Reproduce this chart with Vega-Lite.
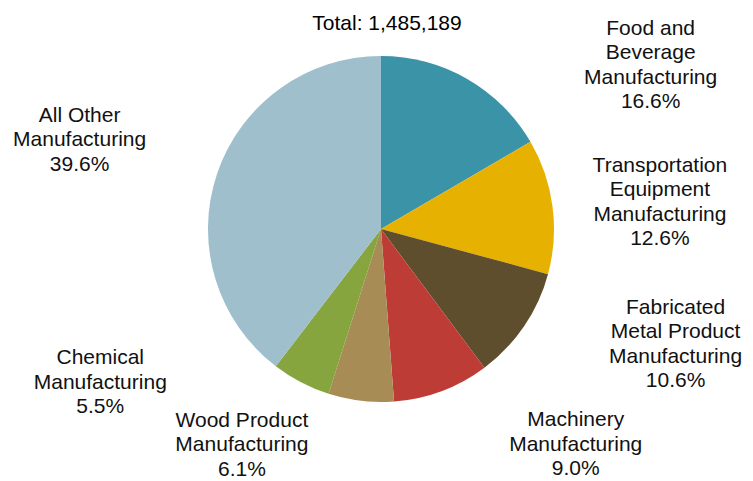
{
  "$schema": "https://vega.github.io/schema/vega-lite/v6.json",
  "width": 744,
  "height": 378,
  "autosize": {"type": "none"},
  "padding": {"left": 9, "top": 40, "right": 0, "bottom": 63},
  "background": "white",
  "config": {"view": {"stroke": null}, "font": "Liberation Sans"},
  "title": {
    "text": "Total: 1,485,189",
    "font": "Liberation Sans",
    "fontSize": 21,
    "fontWeight": "normal",
    "color": "#000000",
    "anchor": "middle",
    "frame": "group",
    "dx": 6,
    "offset": -16
  },
  "data": {
    "values": [
      {"category": "Food and Beverage Manufacturing", "label": "Food and\nBeverage\nManufacturing\n16.6%", "pct": 16.6, "rank": 1},
      {"category": "Transportation Equipment Manufacturing", "label": "Transportation\nEquipment\nManufacturing\n12.6%", "pct": 12.6, "rank": 2},
      {"category": "Fabricated Metal Product Manufacturing", "label": "Fabricated\nMetal Product\nManufacturing\n10.6%", "pct": 10.6, "rank": 3},
      {"category": "Machinery Manufacturing", "label": "Machinery\nManufacturing\n9.0%", "pct": 9.0, "rank": 4},
      {"category": "Wood Product Manufacturing", "label": "Wood Product\nManufacturing\n6.1%", "pct": 6.1, "rank": 5},
      {"category": "Chemical Manufacturing", "label": "Chemical\nManufacturing\n5.5%", "pct": 5.5, "rank": 6},
      {"category": "All Other Manufacturing", "label": "All Other\nManufacturing\n39.6%", "pct": 39.6, "rank": 7}
    ]
  },
  "encoding": {
    "theta": {"field": "pct", "type": "quantitative", "stack": true},
    "order": {"field": "rank", "type": "quantitative", "sort": "ascending"}
  },
  "layer": [
    {
      "mark": {"type": "arc", "radius": 173, "strokeWidth": 0},
      "encoding": {
        "color": {
          "field": "category",
          "type": "nominal",
          "legend": null,
          "scale": {
            "domain": ["Food and Beverage Manufacturing", "Transportation Equipment Manufacturing", "Fabricated Metal Product Manufacturing", "Machinery Manufacturing", "Wood Product Manufacturing", "Chemical Manufacturing", "All Other Manufacturing"],
            "range": ["#3b93a7", "#e7b101", "#5e4e2d", "#be3c36", "#a88c55", "#87a53e", "#9ebfcb"]
          }
        }
      }
    },
    {
      "mark": {
        "type": "text",
        "font": "Liberation Sans",
        "fontSize": 21,
        "color": "#111111",
        "align": "center",
        "baseline": "middle",
        "lineBreak": "\n",
        "lineHeight": 24.5,
        "radius": {"expr": "datum.rank==1?336:datum.rank==2?286:datum.rank==3?305:datum.rank==4?273:datum.rank==5?237:datum.rank==6?309:322"},
        "thetaOffset": {"expr": "datum.rank==1?0.410:datum.rank==2?-0.091:datum.rank==3?-0.335:datum.rank==4?-0.436:datum.rank==5?0.511:datum.rank==6?0.659:0.033"}
      },
      "encoding": {
        "detail": {"field": "category", "type": "nominal"},
        "text": {"field": "label", "type": "nominal"}
      }
    }
  ]
}
